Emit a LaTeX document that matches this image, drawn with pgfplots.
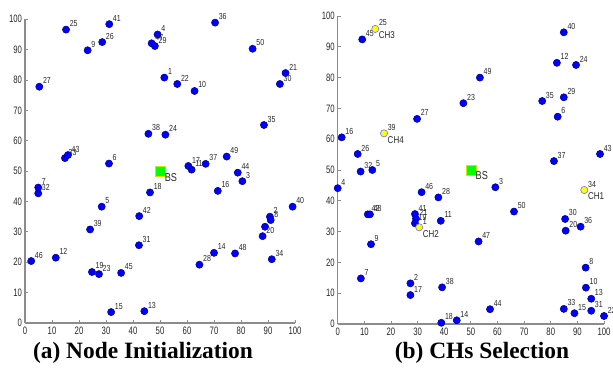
\documentclass[border=0pt]{standalone}
\usepackage{pgfplots}
\pgfplotsset{compat=1.18}
\usepackage{fontspec}
\setmainfont{Liberation Serif}
\newfontfamily\tickfont[FakeStretch=0.72]{Liberation Sans}
\newfontfamily\labfont[FakeStretch=0.8]{Liberation Sans}
\definecolor{mblue}{RGB}{0,0,255}
\definecolor{medge}{RGB}{0,0,140}
\definecolor{myellow}{RGB}{255,255,0}
\definecolor{ychedge}{RGB}{110,110,255}
\definecolor{bsgreen}{RGB}{0,255,0}
\definecolor{bsedge}{RGB}{210,230,0}
\definecolor{axgray}{RGB}{140,140,140}

\pgfplotsset{
  wsn/.style={
    scale only axis, clip=false,
    xmin=0, xmax=100, ymin=0, ymax=100,
    axis x line=bottom, axis y line=left,
    axis line style={-, axgray, line width=1.2bp},
    xtick={0,10,...,100}, ytick={0,10,...,100},
    tick style={axgray, line width=0.8bp},
    major tick length=3bp,
    tick align=inside,
    /pgf/number format/assume math mode=true,
    ticklabel style={font=\tickfont\fontsize{10.8}{10.8}\selectfont, text=black!85},
    xticklabel style={yshift=-0.5bp},
    yticklabel style={xshift=0.5bp},
  },
  nodestyle/.style={only marks, mark=*, mark size=3.6bp,
    mark options={fill=mblue, draw=medge, line width=0.5bp},
    nodes near coords, point meta=explicit symbolic,
    nodes near coords style={anchor=west, xshift=3.5bp, yshift=6bp, inner sep=0pt,
      font=\labfont\fontsize{8.8}{8.8}\selectfont, text=black!85}},
  chstyle/.style={only marks, mark=*, mark size=3.6bp,
    mark options={fill=myellow, draw=ychedge, line width=0.6bp},
    nodes near coords, point meta=explicit symbolic,
    nodes near coords style={anchor=west, xshift=3.5bp, yshift=6bp, inner sep=0pt,
      font=\labfont\fontsize{8.8}{8.8}\selectfont, text=black!85}},
  chlab/.style={only marks, mark=none,
    nodes near coords, point meta=explicit symbolic,
    nodes near coords style={anchor=west, xshift=3.5bp, yshift=-6.5bp, inner sep=0pt,
      font=\labfont\fontsize{10}{10}\selectfont, text=black!85}},
  bsstyle/.style={only marks, mark=square*, mark size=5bp,
    mark options={fill=bsgreen, draw=bsedge, line width=0.6bp},
    nodes near coords, point meta=explicit symbolic,
    nodes near coords style={anchor=west, xshift=4.5bp, yshift=-6bp, inner sep=0pt,
      font=\labfont\fontsize{11.5}{11.5}\selectfont, text=black!85}},
}

\pgfplotstableread{
x y l
15.2 96.6 25
31.2 98.4 41
23.2 89.8 9
28.6 92.5 26
5.3 77.8 27
45.7 62.3 38
14.8 54.3 33
15.9 55.3 43
31.1 52.5 6
49.1 95.0 4
46.9 92.1 47
48.1 91.2 29
70.4 98.9 36
84.3 90.3 50
51.6 80.8 1
56.4 78.7 22
62.8 76.4 10
96.5 82.3 21
94.4 78.7 30
88.5 65.2 35
52.0 62.0 24
74.7 54.8 49
66.9 52.4 37
60.5 51.7 17
61.7 50.5 11
78.8 49.5 44
80.5 46.7 3
71.4 43.5 16
46.3 43.0 18
42.3 35.2 42
28.4 38.3 5
24.1 30.8 39
4.9 44.6 7
4.9 42.7 32
2.3 20.4 46
11.4 21.5 12
24.8 16.8 19
27.4 16.1 23
35.6 16.5 45
42.2 25.6 31
31.9 3.6 15
44.2 3.9 13
90.7 35.0 2
91.0 33.9 8
88.0 28.6 20
99.1 38.3 40
70.0 23.1 14
77.8 22.9 48
64.6 19.2 28
91.4 21.0 34
}\nodesA

\pgfplotstableread{
x y l
9.2 92.4 45
1.5 60.6 16
7.5 55.2 26
29.8 66.6 27
47.2 71.7 23
8.6 49.5 32
13.0 50.0 5
0.0 44.1 4
31.5 42.8 46
37.8 41.1 28
11.3 35.6 42
12.1 35.6 48
29.0 35.7 41
29.4 34.2 21
29.0 32.7 19
38.7 33.5 11
12.5 25.9 9
8.7 14.8 7
27.3 13.2 2
27.3 9.4 17
39.2 11.9 38
38.9 0.4 18
44.7 1.2 14
84.9 94.7 40
82.3 84.8 12
89.5 84.1 24
53.4 80.0 49
76.8 72.4 35
84.9 73.6 29
82.6 67.3 6
98.5 55.2 43
81.2 52.9 37
59.2 44.4 3
66.2 36.5 50
85.4 34.1 30
85.6 30.3 20
91.2 31.6 36
52.9 26.8 47
93.1 18.3 8
93.2 11.8 10
95.2 8.2 13
95.2 4.3 31
88.9 3.5 15
84.9 4.9 33
100.0 2.6 22
57.2 4.8 44
}\nodesB

\pgfplotstableread{
x y l c
14.1 95.8 25 CH3
17.4 61.9 39 CH4
30.6 31.4 1 CH2
92.6 43.5 34 CH1
}\chB

\begin{document}
\begin{tikzpicture}[x=1bp,y=1bp]
\useasboundingbox (0,0) rectangle (613,377);

\begin{axis}[wsn, at={(25bp,54bp)}, anchor=south west, width=270bp, height=303.7bp]
\addplot[only marks, mark=*, mark size=3.6bp, mark options={fill=mblue, draw=medge, line width=0.5bp}] coordinates {(88.9,31.7)};
\addplot[nodestyle] table[x=x, y=y, meta=l] {\nodesA};
\addplot[bsstyle] coordinates {(50,50) [BS]};
\end{axis}

\begin{axis}[wsn, at={(337.7bp,53bp)}, anchor=south west, width=266.3bp, height=308bp]
\addplot[nodestyle] table[x=x, y=y, meta=l] {\nodesB};
\addplot[chstyle] table[x=x, y=y, meta=l] {\chB};
\addplot[chlab] table[x=x, y=y, meta=c] {\chB};
\addplot[bsstyle] coordinates {(50,50) [BS]};
\end{axis}

\node[font=\bfseries\fontsize{23.5}{23.5}\selectfont] at (143,24) {(a) Node Initialization};
\node[font=\bfseries\fontsize{23.5}{23.5}\selectfont] at (482,24) {(b) CHs Selection};
\end{tikzpicture}
\end{document}
